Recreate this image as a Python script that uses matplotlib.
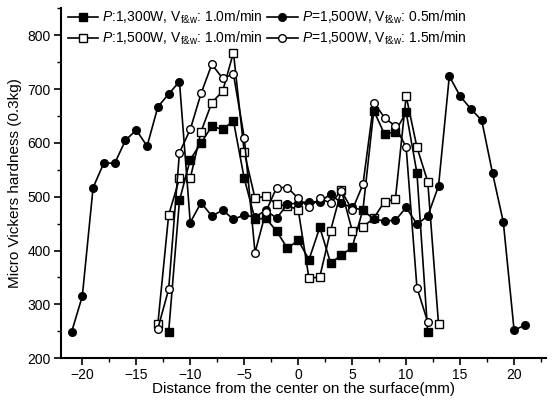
import matplotlib
matplotlib.use("Agg")
import matplotlib.pyplot as plt
from matplotlib.ticker import MultipleLocator

plt.rcParams['font.family'] = ['Liberation Sans', 'DejaVu Sans']
plt.rcParams['mathtext.fontset'] = 'custom'
plt.rcParams['mathtext.rm'] = 'Liberation Sans'
plt.rcParams['mathtext.it'] = 'Liberation Sans:italic'

# P:1,300W, V 1.0 m/min (filled squares)
x_sq_fill = list(range(-12, 13))
y_sq_fill = [249, 493, 569, 600, 631, 625, 641, 534, 458, 460, 436, 404, 419,
             383, 443, 377, 391, 406, 476, 660, 616, 621, 657, 544, 248]

# P:1,500W, V 1.0 m/min (open squares)
x_sq_open = list(range(-13, 14))
y_sq_open = [264, 466, 534, 534, 621, 675, 696, 768, 583, 497, 501, 486, 483,
             476, 348, 351, 437, 512, 437, 444, 460, 491, 495, 687, 592, 528, 263]

# P=1,500W, V 0.5 m/min (filled circles)
x_ci_fill = list(range(-21, 22))
y_ci_fill = [248, 315, 517, 563, 562, 605, 624, 594, 667, 691, 714, 452, 489,
             464, 475, 458, 466, 462, 475, 460, 486, 488, 491, 490, 505, 488,
             480, 475, 458, 455, 456, 480, 449, 464, 520, 724, 687, 663, 642,
             544, 453, 252, 261]

# P=1,500W, V 1.5 m/min (open circles)
x_ci_open = list(range(-13, 13))
y_ci_open = [255, 328, 582, 625, 692, 746, 720, 728, 610, 396, 472, 517, 517,
             497, 480, 497, 488, 511, 475, 523, 675, 647, 631, 592, 331, 267]

labels = [r"$\it{P}$:1,300W, V$_{\mathrm{f&w}}$: 1.0m/min",
          r"$\it{P}$:1,500W, V$_{\mathrm{f&w}}$: 1.0m/min",
          r"$\it{P}$=1,500W, V$_{\mathrm{f&w}}$: 0.5m/min",
          r"$\it{P}$=1,500W, V$_{\mathrm{f&w}}$: 1.5m/min"]

fig = plt.figure(figsize=(5.52, 4.01), dpi=100)
ax = fig.add_axes([0.11, 0.107, 0.88, 0.872])

kw = dict(color='black', linewidth=1.2, markersize=5.5, markeredgewidth=1.0)
ax.plot(x_sq_fill, y_sq_fill, marker='s', markerfacecolor='black', label=labels[0], **kw)
ax.plot(x_sq_open, y_sq_open, marker='s', markerfacecolor='white', label=labels[1], **kw)
ax.plot(x_ci_fill, y_ci_fill, marker='o', markerfacecolor='black', label=labels[2], **kw)
ax.plot(x_ci_open, y_ci_open, marker='o', markerfacecolor='white', label=labels[3], **kw)

ax.set_xlim(-22, 23)
ax.set_ylim(200, 850)
ax.xaxis.set_major_locator(MultipleLocator(5))
ax.xaxis.set_minor_locator(MultipleLocator(2.5))
ax.yaxis.set_minor_locator(MultipleLocator(50))
ax.set_yticks([200, 300, 400, 500, 600, 700, 800])
ax.spines['top'].set_visible(False)
ax.spines['right'].set_visible(False)
ax.spines['left'].set_linewidth(1.5)
ax.spines['bottom'].set_linewidth(1.5)
ax.tick_params(which='major', direction='out', length=5, width=1.2, labelsize=10, pad=2)
ax.tick_params(which='minor', direction='out', length=3, width=1.0)

ax.set_xlabel('Distance from the center on the surface(mm)', fontsize=11, labelpad=0)
ax.set_ylabel('Micro Vickers hardness (0.3kg)', fontsize=11, labelpad=4)

ax.legend(loc='upper left', bbox_to_anchor=(0.0, 1.02), ncol=2, frameon=False,
          fontsize=10, handlelength=2.2, handletextpad=0.3, columnspacing=0.3,
          labelspacing=0.3, borderaxespad=0.1)

fig.savefig('out.png', dpi=100)
